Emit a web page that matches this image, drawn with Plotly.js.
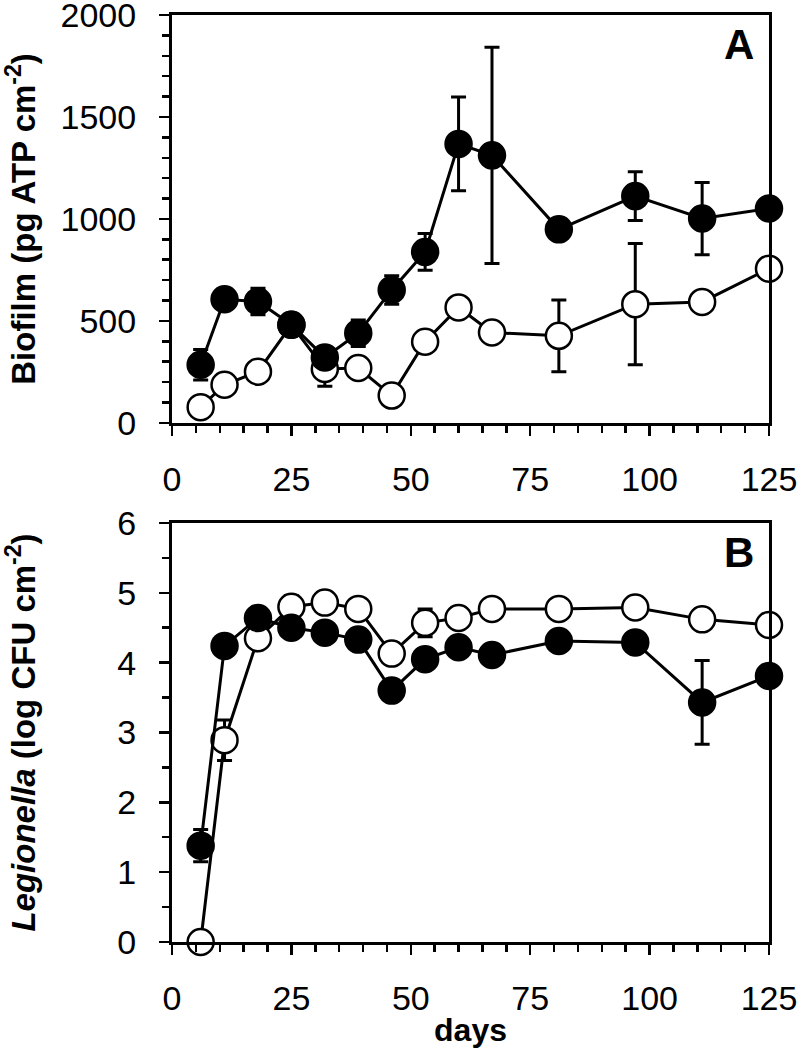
<!DOCTYPE html>
<html>
<head>
<meta charset="utf-8">
<script src="https://cdn.plot.ly/plotly-3.0.1.min.js"></script>
<style>
  html, body { margin: 0; padding: 0; background: #fff; }
  #chart { width: 800px; height: 1048px; }
</style>
</head>
<body>
<div id="chart"></div>
<script>
// sampling days
const days = [6, 11, 18, 25, 32, 39, 46, 53, 60, 67, 81, 97, 111, 125];

// panel A: biofilm (pg ATP cm-2)
const biofilmFilled = [285, 606, 595, 481, 321, 440, 652, 838, 1368, 1312, 949, 1112, 1002, 1051];
const biofilmFilledErr = [75, 0, 65, 0, 0, 65, 70, 90, 230, 530, 0, 120, 177, 0];
const biofilmOpen = [77, 187, 251, 481, 264, 269, 134, 398, 566, 443, 427, 582, 593, 756];
const biofilmOpenErr = [0, 0, 0, 0, 85, 0, 0, 0, 0, 0, 176, 297, 0, 0];

// panel B: Legionella (log CFU cm-2)
const legFilled = [1.38, 4.24, 4.64, 4.50, 4.43, 4.33, 3.60, 4.05, 4.22, 4.11, 4.31, 4.29, 3.43, 3.81];
const legFilledErr = [0.23, 0, 0, 0, 0, 0, 0, 0, 0, 0, 0, 0, 0.60, 0];
const legOpen = [0, 2.89, 4.35, 4.80, 4.86, 4.77, 4.13, 4.57, 4.64, 4.77, 4.77, 4.79, 4.62, 4.54];
const legOpenErr = [0, 0.29, 0, 0.16, 0, 0, 0, 0.2, 0, 0, 0, 0, 0, 0];

const FONT = "Liberation Sans, Arial, sans-serif";

function series(y, err, filled, xa, ya) {
  return {
    x: days,
    y: y,
    xaxis: xa,
    yaxis: ya,
    type: "scatter",
    mode: "lines+markers",
    cliponaxis: false,
    showlegend: false,
    line: { color: "black", width: 3 },
    marker: {
      size: 26,
      color: filled ? "black" : "white",
      line: { color: "black", width: 2.5 },
    },
    error_y: { type: "data", array: err, visible: true, color: "black", thickness: 3, width: 7.5 },
  };
}

// open circles first so the filled ones sit on top
const traces = [
  series(biofilmOpen, biofilmOpenErr, false, "x", "y"),
  series(biofilmFilled, biofilmFilledErr, true, "x", "y"),
  series(legOpen, legOpenErr, false, "x2", "y2"),
  series(legFilled, legFilledErr, true, "x2", "y2"),
];

const xCommon = {
  range: [0, 125],
  tickmode: "linear",
  tick0: 0,
  dtick: 25,
  ticks: "outside",
  ticklen: 10,
  tickwidth: 2.5,
  tickcolor: "black",
  minor: { dtick: 5, ticks: "outside", ticklen: 7, tickwidth: 2.5, tickcolor: "black" },
  showline: true,
  linewidth: 3,
  linecolor: "black",
  mirror: true,
  showgrid: false,
  zeroline: false,
  ticklabelstandoff: 14,
  ticklabeloverflow: "allow",
  tickfont: { family: FONT, size: 34, color: "black" },
};

const yCommon = {
  tickmode: "linear",
  ticks: "outside",
  ticklen: 10,
  tickwidth: 2.5,
  tickcolor: "black",
  showline: true,
  linewidth: 3,
  linecolor: "black",
  mirror: true,
  showgrid: false,
  zeroline: false,
  ticklabelstandoff: 16,
  ticklabeloverflow: "allow",
  tickfont: { family: FONT, size: 34, color: "black" },
};

const layout = {
  width: 800,
  height: 1048,
  margin: { l: 172, r: 31, t: 15, b: 106 },
  paper_bgcolor: "white",
  plot_bgcolor: "white",
  font: { family: FONT, color: "black" },
  xaxis: Object.assign({}, xCommon, { anchor: "y", domain: [0, 1] }),
  yaxis: Object.assign({}, yCommon, {
    anchor: "x",
    domain: [0.56, 1],
    range: [0, 2000],
    tick0: 0,
    dtick: 500,
    minor: { dtick: 100, ticks: "outside", ticklen: 7, tickwidth: 2.5, tickcolor: "black" },
    title: {
      text: "<b>Biofilm (pg ATP cm<sup>-2</sup>)</b>",
      font: { family: FONT, size: 33, color: "black" },
      standoff: 20,
    },
  }),
  xaxis2: Object.assign({}, xCommon, {
    anchor: "y2",
    domain: [0, 1],
    title: {
      text: "<b>days</b>",
      font: { family: FONT, size: 32, color: "black" },
      standoff: 8,
    },
  }),
  yaxis2: Object.assign({}, yCommon, {
    anchor: "x2",
    domain: [0, 0.452],
    range: [0, 6],
    tick0: 0,
    dtick: 1,
    minor: { dtick: 0.5, ticks: "outside", ticklen: 7, tickwidth: 2.5, tickcolor: "black" },
    title: {
      text: "<b><i>Legionella</i> (log CFU cm<sup>-2</sup>)</b>",
      font: { family: FONT, size: 33, color: "black" },
      standoff: 75,
    },
  }),
  annotations: [
    {
      text: "<b>A</b>", xref: "x domain", yref: "y domain", x: 0.978, y: 0.99,
      xanchor: "right", yanchor: "top", showarrow: false,
      font: { family: FONT, size: 42, color: "black" },
    },
    {
      text: "<b>B</b>", xref: "x2 domain", yref: "y2 domain", x: 0.978, y: 0.99,
      xanchor: "right", yanchor: "top", showarrow: false,
      font: { family: FONT, size: 42, color: "black" },
    },
  ],
};

Plotly.newPlot("chart", traces, layout, { displayModeBar: false, staticPlot: true });
</script>
</body>
</html>
